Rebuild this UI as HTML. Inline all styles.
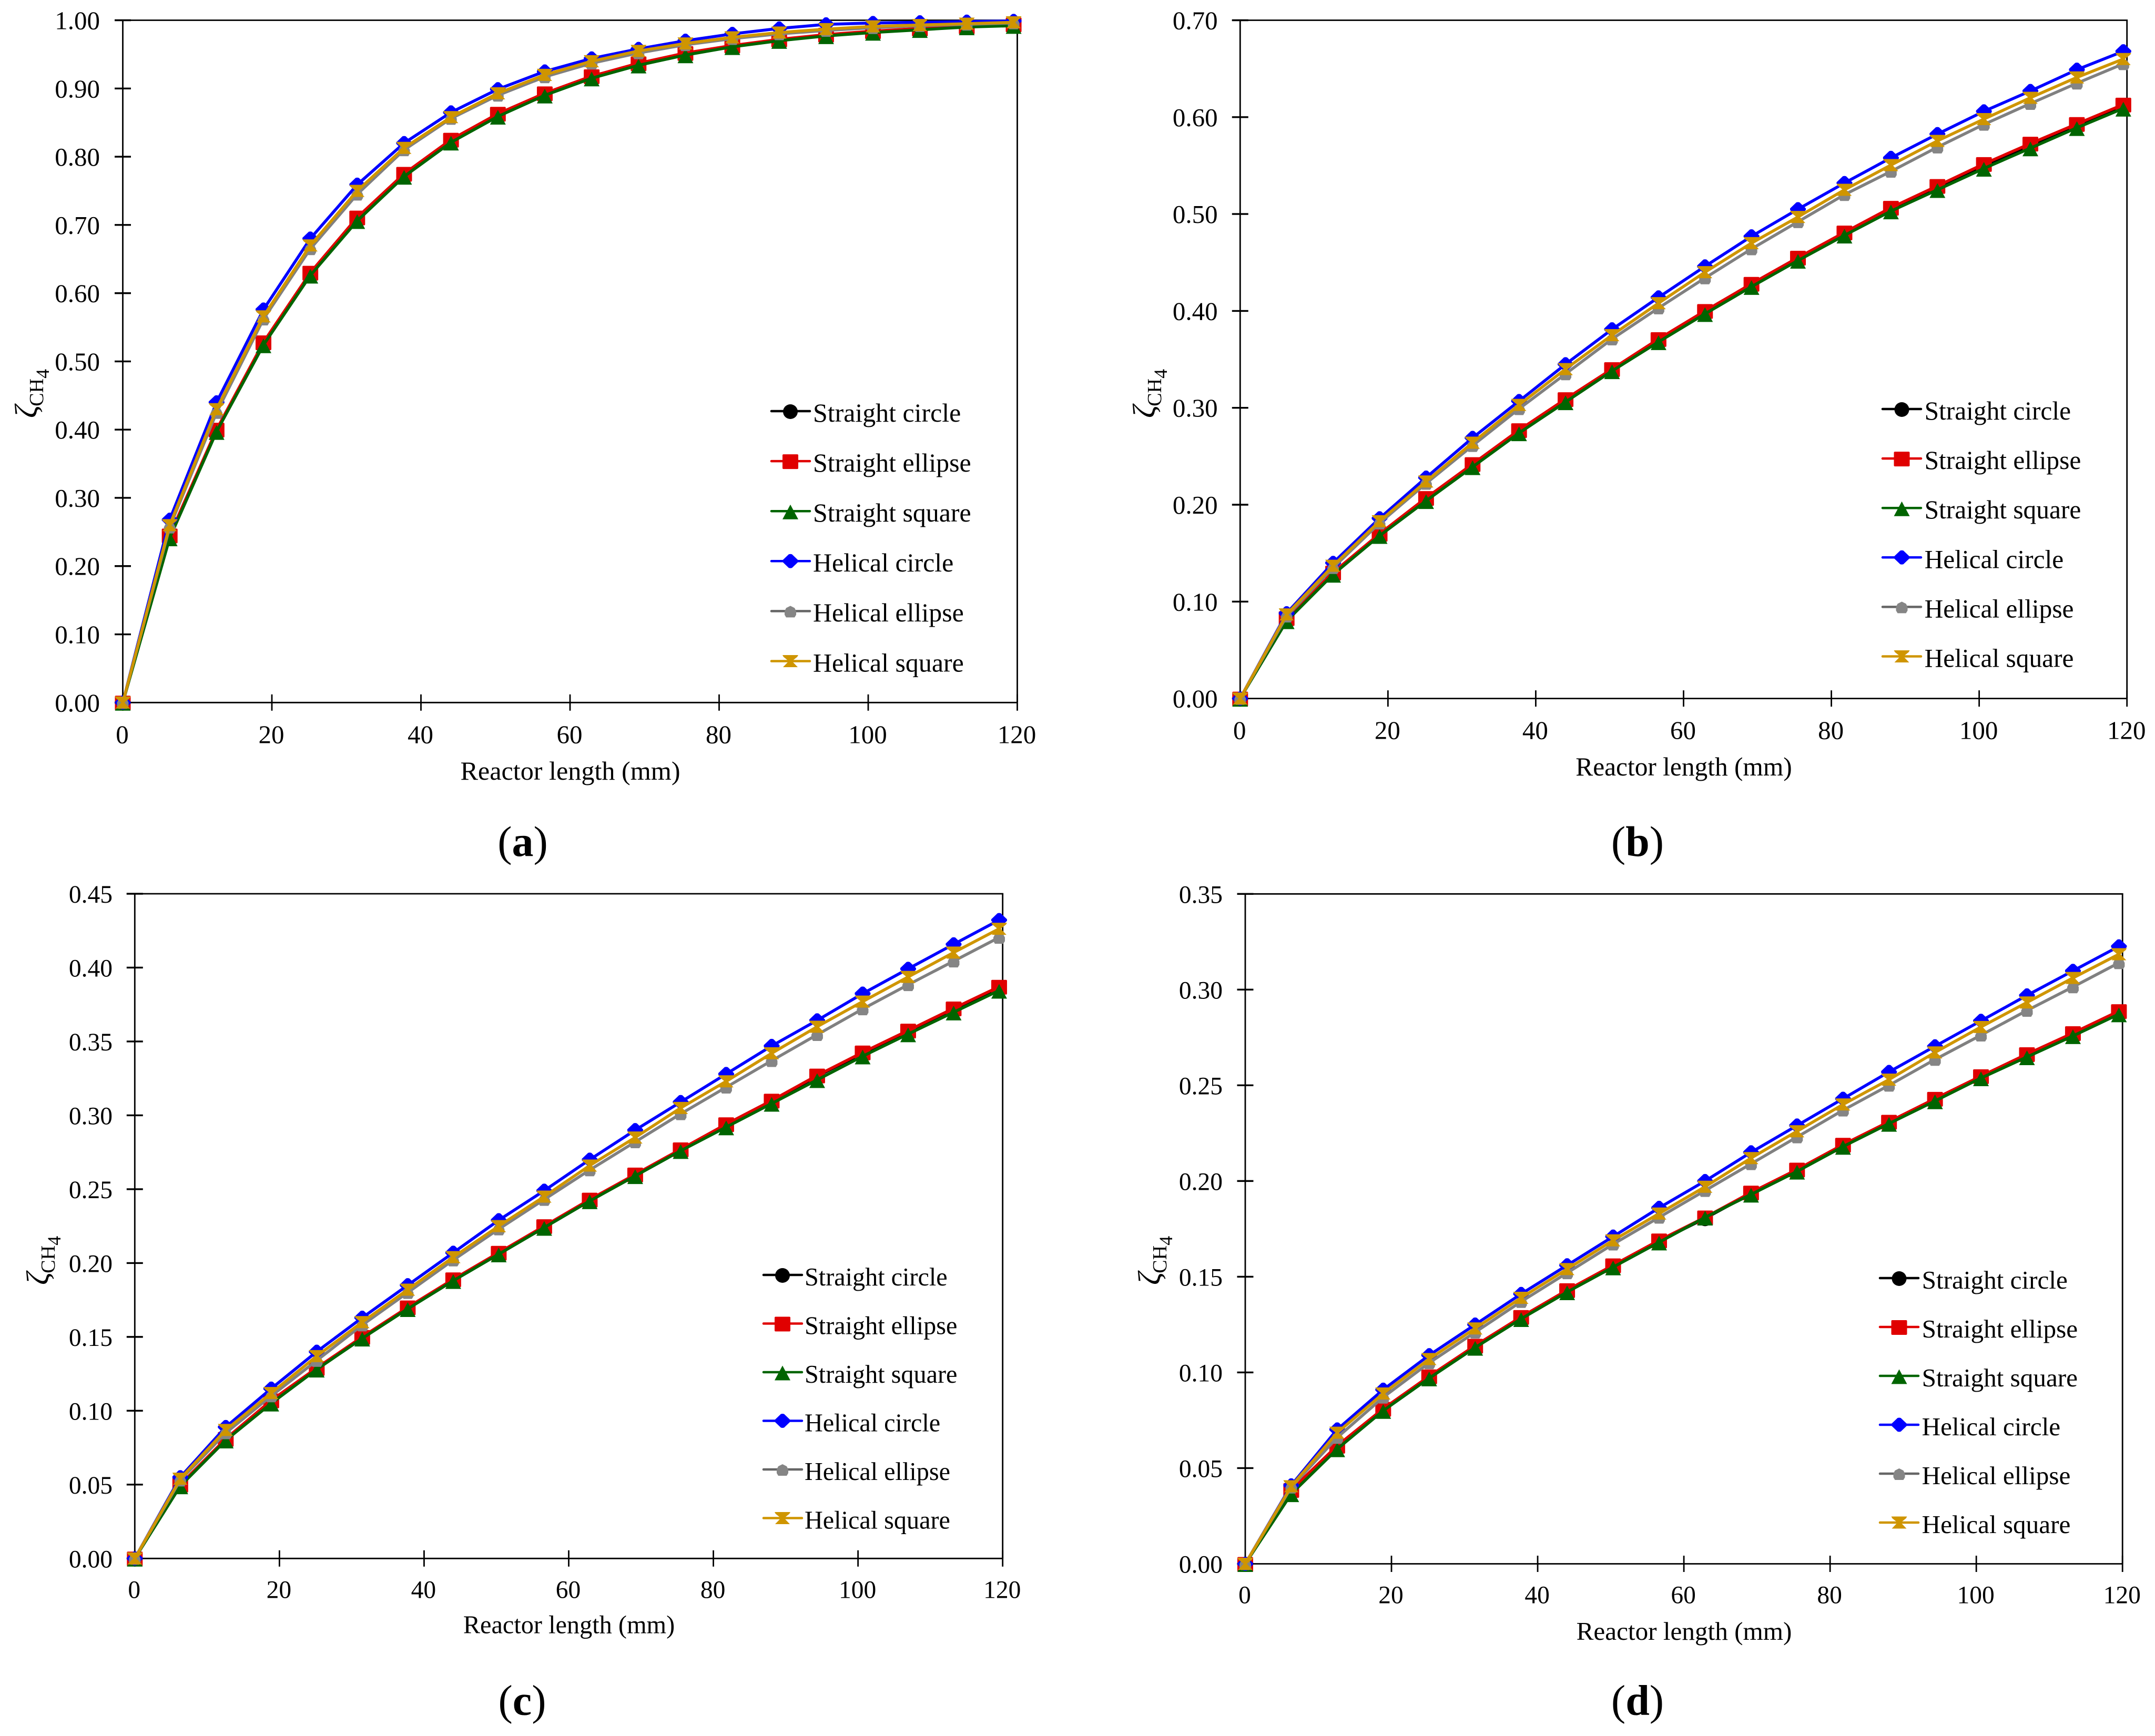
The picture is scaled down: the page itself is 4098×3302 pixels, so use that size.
<!DOCTYPE html>
<html lang="en">
<head>
<meta charset="utf-8">
<title>Methane conversion along reactor length</title>
<style>
html,body{margin:0;padding:0;background:#fff;}
svg{display:block;font-family:"Liberation Serif",serif;fill:#000;}
</style>
</head>
<body>
<svg id="figure" xmlns="http://www.w3.org/2000/svg" width="4098" height="3302" viewBox="0 0 4098 3302">
<rect x="0" y="0" width="4098" height="3302" fill="#fff"/>

<g id="panel-a">
  <text x="1084.5" y="1483" font-size="50.2" text-anchor="middle">Reactor length (mm)</text>
  <text x="994" y="1628" font-size="82" text-anchor="middle">(<tspan font-weight="bold">a</tspan>)</text>
  <text transform="translate(70,795) rotate(-90)" font-size="38"><tspan font-size="60" font-style="italic">ζ</tspan><tspan dy="12" dx="-2">CH</tspan><tspan dy="11" font-size="36">4</tspan></text>
  <text x="1546" y="802" font-size="49.9">Straight circle</text>
  <text x="1546" y="897" font-size="49.9">Straight ellipse</text>
  <text x="1546" y="992" font-size="49.9">Straight square</text>
  <text x="1546" y="1087" font-size="49.9">Helical circle</text>
  <text x="1546" y="1182" font-size="49.9">Helical ellipse</text>
  <text x="1546" y="1277.5" font-size="49.9">Helical square</text>
</g>

<g id="panel-b">
  <text x="3202" y="1475" font-size="49.4" text-anchor="middle">Reactor length (mm)</text>
  <text x="3114" y="1628" font-size="82" text-anchor="middle">(<tspan font-weight="bold">b</tspan>)</text>
  <text transform="translate(2196,795) rotate(-90)" font-size="38"><tspan font-size="60" font-style="italic">ζ</tspan><tspan dy="12" dx="-2">CH</tspan><tspan dy="11" font-size="36">4</tspan></text>
  <text x="3659.6" y="798" font-size="49.4">Straight circle</text>
  <text x="3659.6" y="892" font-size="49.4">Straight ellipse</text>
  <text x="3659.6" y="986" font-size="49.4">Straight square</text>
  <text x="3659.6" y="1080.5" font-size="49.4">Helical circle</text>
  <text x="3659.6" y="1174.5" font-size="49.4">Helical ellipse</text>
  <text x="3659.6" y="1268.5" font-size="49.4">Helical square</text>
</g>

<g id="panel-c">
  <text x="1082" y="3106.7" font-size="48.3" text-anchor="middle">Reactor length (mm)</text>
  <text x="993" y="3261.7" font-size="82" text-anchor="middle">(<tspan font-weight="bold">c</tspan>)</text>
  <text transform="translate(92,2444) rotate(-90)" font-size="38"><tspan font-size="60" font-style="italic">ζ</tspan><tspan dy="12" dx="-2">CH</tspan><tspan dy="11" font-size="36">4</tspan></text>
  <text x="1530" y="2445" font-size="48.2">Straight circle</text>
  <text x="1530" y="2537.5" font-size="48.2">Straight ellipse</text>
  <text x="1530" y="2630" font-size="48.2">Straight square</text>
  <text x="1530" y="2722.5" font-size="48.2">Helical circle</text>
  <text x="1530" y="2815" font-size="48.2">Helical ellipse</text>
  <text x="1530" y="2907.5" font-size="48.2">Helical square</text>
</g>

<g id="panel-d">
  <text x="3202.5" y="3119" font-size="49.2" text-anchor="middle">Reactor length (mm)</text>
  <text x="3114" y="3261.7" font-size="82" text-anchor="middle">(<tspan font-weight="bold">d</tspan>)</text>
  <text transform="translate(2206,2444) rotate(-90)" font-size="38"><tspan font-size="60" font-style="italic">ζ</tspan><tspan dy="12" dx="-2">CH</tspan><tspan dy="11" font-size="36">4</tspan></text>
  <text x="3654.6" y="2451" font-size="49.2">Straight circle</text>
  <text x="3654.6" y="2544" font-size="49.2">Straight ellipse</text>
  <text x="3654.6" y="2637" font-size="49.2">Straight square</text>
  <text x="3654.6" y="2730" font-size="49.2">Helical circle</text>
  <text x="3654.6" y="2823" font-size="49.2">Helical ellipse</text>
  <text x="3654.6" y="2916" font-size="49.2">Helical square</text>
</g>
</svg>

<script>
const reactorLength = [0,6.29,12.58,18.87,25.16,31.45,37.74,44.03,50.32,56.61,62.9,69.19,75.48,81.77,88.06,94.35,100.64,106.93,113.22,119.51];
const xTickLabels = ["0","20","40","60","80","100","120"];

const yTicksA = ["0.00","0.10","0.20","0.30","0.40","0.50","0.60","0.70","0.80","0.90","1.00"];
const yTicksB = ["0.00","0.10","0.20","0.30","0.40","0.50","0.60","0.70"];
const yTicksC = ["0.00","0.05","0.10","0.15","0.20","0.25","0.30","0.35","0.40","0.45"];
const yTicksD = ["0.00","0.05","0.10","0.15","0.20","0.25","0.30","0.35"];

const aStraightCircle = [0,.243,.399,.526,.628,.708,.773,.823,.861,.892,.917,.936,.951,.962,.971,.978,.983,.987,.990,.993];
const aStraightEllipse = [0,.245,.400,.528,.630,.711,.775,.825,.863,.893,.918,.937,.952,.963,.972,.979,.984,.988,.991,.994];
const aStraightSquare = [0,.241,.397,.524,.626,.706,.771,.821,.859,.890,.915,.934,.949,.961,.970,.977,.982,.986,.990,.992];
const aHelicalCircle = [0,.268,.440,.576,.680,.759,.820,.865,.899,.925,.944,.958,.970,.980,.988,.994,.996,.997,.998,.999];
const aHelicalEllipse = [0,.257,.425,.562,.665,.745,.810,.856,.890,.917,.937,.952,.964,.973,.980,.985,.989,.992,.994,.996];
const aHelicalSquare = [0,.260,.430,.566,.670,.750,.813,.858,.893,.920,.940,.955,.966,.975,.982,.987,.991,.993,.995,.997];

const bStraightCircle = [0,.082,.129,.169,.206,.241,.276,.308,.339,.370,.399,.427,.454,.480,.505,.528,.550,.571,.592,.612];
const bStraightEllipse = [0,.083,.130,.170,.207,.242,.277,.309,.340,.371,.400,.428,.455,.481,.5065,.529,.5517,.5727,.593,.613];
const bStraightSquare = [0,.080,.128,.168,.204,.239,.274,.306,.338,.368,.397,.425,.452,.478,.503,.525,.547,.568,.589,.609];
const bHelicalCircle = [0,.088,.140,.186,.228,.269,.307,.345,.381,.414,.446,.477,.505,.532,.558,.5825,.606,.627,.649,.668];
const bHelicalEllipse = [0,.085,.135,.181,.222,.261,.299,.335,.371,.403,.434,.464,.492,.520,.544,.569,.5925,.614,.635,.655];
const bHelicalSquare = [0,.0868,.137,.183,.224,.264,.303,.340,.375,.408,.440,.470,.497,.525,.5505,.5755,.598,.620,.641,.660];

const cStraightCircle = [0,.0495,.0805,.1065,.1285,.1495,.1695,.1885,.2065,.2245,.2425,.2595,.2765,.2935,.3095,.3265,.342,.357,.372,.3865];
const cStraightEllipse = [0,.050,.081,.107,.129,.150,.170,.189,.207,.225,.243,.260,.277,.294,.310,.327,.3426,.3574,.3724,.3871];
const cStraightSquare = [0,.049,.080,.105,.128,.149,.169,.188,.206,.224,.242,.259,.276,.292,.308,.324,.340,.355,.3698,.3845];
const cHelicalCircle = [0,.055,.089,.115,.140,.163,.185,.207,.229,.249,.270,.290,.309,.328,.347,.3643,.3824,.3992,.4158,.4322];
const cHelicalEllipse = [0,.053,.085,.110,.134,.158,.180,.202,.223,.243,.263,.282,.301,.319,.337,.3546,.372,.3884,.4044,.4204];
const cHelicalSquare = [0,.054,.087,.112,.137,.160,.182,.204,.225,.245,.266,.285,.305,.323,.342,.360,.377,.3937,.4102,.4263];

const dStraightCircle = [0,.038,.061,.0805,.0975,.1135,.1285,.1425,.1555,.1685,.1805,.1935,.2055,.2185,.2305,.2425,.2543,.2658,.2768,.2883];
const dStraightEllipse = [0,.0386,.0617,.081,.098,.114,.129,.143,.156,.169,.181,.194,.206,.219,.231,.243,.2548,.2663,.2773,.2888];
const dStraightSquare = [0,.0365,.060,.080,.097,.113,.128,.142,.155,.168,.181,.193,.205,.218,.230,.2418,.2538,.2648,.2758,.2872];
const dHelicalCircle = [0,.041,.0702,.091,.109,.125,.141,.156,.171,.186,.200,.215,.229,.243,.257,.2704,.2837,.297,.3098,.3226];
const dHelicalEllipse = [0,.040,.066,.087,.105,.121,.137,.152,.167,.181,.195,.209,.223,.237,.250,.2635,.2762,.2891,.3014,.314];
const dHelicalSquare = [0,.0405,.0685,.089,.107,.123,.139,.154,.169,.183,.197,.212,.226,.240,.253,.2672,.2805,.2933,.3061,.3185];

const seriesNames = ["straight-circle","straight-ellipse","straight-square","helical-circle","helical-ellipse","helical-square"];
const lineColors = ["#000000","#e00000","#006400","#0000ff","#808080","#cf9500"];
const markerColors = ["#000000","#e00000","#006400","#0000ff","#858585","#cf9500"];
const legendLineColors = ["#000000","#e00000","#006400","#0000ff","#666666","#cf9500"];
const markerKinds = ["circle","square","triangle","diamond","pentagon","hourglass"];

const panels = [
  {id:"panel-a", left:233.5, right:1934.5, bottom:1336.3, top:38.5, yMax:1.0, ticks:yTicksA, labelRight:190, font:49, xLabelDrop:77,
   legendX1:1467, legendX2:1540, legendMark:1503, legendY:782, legendStep:95.1,
   series:[aStraightCircle,aStraightEllipse,aStraightSquare,aHelicalCircle,aHelicalEllipse,aHelicalSquare]},
  {id:"panel-b", left:2358.3, right:4044.7, bottom:1328.6, top:38.5, yMax:0.7, ticks:yTicksB, labelRight:2315.6, font:49, xLabelDrop:77,
   legendX1:3580, legendX2:3653, legendMark:3616.5, legendY:778, legendStep:94.1,
   series:[bStraightCircle,bStraightEllipse,bStraightSquare,bHelicalCircle,bHelicalEllipse,bHelicalSquare]},
  {id:"panel-c", left:256.3, right:1906.7, bottom:2964.3, top:1700, yMax:0.45, ticks:yTicksC, labelRight:214, font:47.5, xLabelDrop:75,
   legendX1:1452, legendX2:1525, legendMark:1488, legendY:2425, legendStep:92.5,
   series:[cStraightCircle,cStraightEllipse,cStraightSquare,cHelicalCircle,cHelicalEllipse,cHelicalSquare]},
  {id:"panel-d", left:2368, right:4036.2, bottom:2974.5, top:1700.3, yMax:0.35, ticks:yTicksD, labelRight:2325, font:47.5, xLabelDrop:75,
   legendX1:3575, legendX2:3648, legendMark:3611.5, legendY:2431, legendStep:93,
   series:[dStraightCircle,dStraightEllipse,dStraightSquare,dHelicalCircle,dHelicalEllipse,dHelicalSquare]}
];

const SVG_NS = "http://www.w3.org/2000/svg";
const TICK_HALF = 15.5;
const AXIS_WIDTH = 2.8;
const TICK_WIDTH = 3.4;
const X_MAX = 120;

function xScale(panel, value) {
  return panel.left + (value / X_MAX) * (panel.right - panel.left);
}
function yScale(panel, value) {
  return panel.bottom - (value / panel.yMax) * (panel.bottom - panel.top);
}
function make(tag, parent) {
  const el = document.createElementNS(SVG_NS, tag);
  parent.appendChild(el);
  return el;
}
function drawLine(parent, name, x1, y1, x2, y2, color, width) {
  const el = make("line", parent);
  
  
  el.setAttribute("x1", x1);
  el.setAttribute("y1", y1);
  el.setAttribute("x2", x2);
  el.setAttribute("y2", y2);
  el.setAttribute("stroke", color);
  el.setAttribute("stroke-width", width);
  return el;
}
function drawLabel(parent, name, x, y, text, size, anchor) {
  const el = make("text", parent);
  
  
  el.setAttribute("x", x);
  el.setAttribute("y", y);
  el.setAttribute("font-size", size);
  el.setAttribute("text-anchor", anchor);
  el.textContent = text;
  return el;
}
function polygonPoints(cx, cy, offsets) {
  return offsets.map(function (p) { return (cx + p[0]).toFixed(2) + "," + (cy + p[1]).toFixed(2); }).join(" ");
}
function drawMarker(parent, name, kind, cx, cy, color) {
  let el;
  if (kind === "circle") {
    el = make("circle", parent);
    el.setAttribute("cx", cx);
    el.setAttribute("cy", cy + 1);
    el.setAttribute("r", 14);
  } else if (kind === "square") {
    el = make("rect", parent);
    el.setAttribute("x", cx - 15);
    el.setAttribute("y", cy - 13);
    el.setAttribute("width", 30);
    el.setAttribute("height", 28);
    el.setAttribute("rx", 2);
  } else {
    el = make("polygon", parent);
    let shape;
    if (kind === "triangle") {
      shape = [[0,-12.5],[15,15.5],[-15,15.5]];
    } else if (kind === "diamond") {
      shape = [[0,-13.5],[3,-13],[15,-1.5],[15,1.5],[3,13],[0,13.5],[-3,13],[-15,1.5],[-15,-1.5],[-3,-13]];
    } else if (kind === "pentagon") {
      shape = [[0,-10],[8,-6],[11,0],[11,7],[8,12],[-8,12],[-11,7],[-11,0],[-8,-6]];
    } else {
      shape = [[-15,-11.5],[15,-11.5],[13,-8],[3,0],[14,11.5],[-14,11.5],[-3,0],[-13,-8]];
    }
    el.setAttribute("points", polygonPoints(cx, cy, shape));
  }
  
  
  el.setAttribute("fill", color);
  return el;
}
function drawFrame(panel, group) {
  drawLine(group, "plot-top-border", panel.left - TICK_HALF, panel.top, panel.right + AXIS_WIDTH / 2, panel.top, "#000", AXIS_WIDTH);
  drawLine(group, "plot-right-border", panel.right, panel.top, panel.right, panel.bottom, "#000", AXIS_WIDTH);
  drawLine(group, "y-axis-line", panel.left, panel.top, panel.left, panel.bottom, "#000", AXIS_WIDTH);
  drawLine(group, "x-axis-line", panel.left, panel.bottom, panel.right, panel.bottom, "#000", AXIS_WIDTH);
}
function drawYAxis(panel, group) {
  panel.ticks.forEach(function (label) {
    const y = yScale(panel, parseFloat(label));
    drawLine(group, "y-tick", panel.left - TICK_HALF, y, panel.left + TICK_HALF, y, "#000", TICK_WIDTH);
    drawLabel(group, "y-tick-label", panel.labelRight, y + 17, label, panel.font, "end");
  });
}
function drawXAxis(panel, group) {
  xTickLabels.forEach(function (label) {
    const x = xScale(panel, parseFloat(label));
    drawLine(group, "x-tick", x, panel.bottom - TICK_HALF, x, panel.bottom + TICK_HALF, "#000", AXIS_WIDTH);
    drawLabel(group, "x-tick-label", x - 1, panel.bottom + panel.xLabelDrop, label, panel.font, "middle");
  });
}
function drawSeries(panel, group) {
  panel.series.forEach(function (values, s) {
    const g = make("g", group);
    
    
    const path = make("polyline", g);
    
    
    path.setAttribute("fill", "none");
    path.setAttribute("stroke", lineColors[s]);
    path.setAttribute("stroke-width", 5.6);
    path.setAttribute("stroke-linejoin", "round");
    path.setAttribute("points", values.map(function (v, i) {
      return xScale(panel, reactorLength[i]).toFixed(2) + "," + yScale(panel, v).toFixed(2);
    }).join(" "));
    values.forEach(function (v, i) {
      drawMarker(g, "point-" + seriesNames[s], markerKinds[s], xScale(panel, reactorLength[i]), yScale(panel, v), markerColors[s]);
    });
  });
}
function drawLegend(panel, group) {
  seriesNames.forEach(function (name, s) {
    const y = panel.legendY + s * panel.legendStep;
    const sample = drawLine(group, "legend-line-" + name, panel.legendX1, y, panel.legendX2, y, legendLineColors[s], 4.5);
    sample.setAttribute("stroke-linecap", "round");
    drawMarker(group, "legend-marker-" + name, markerKinds[s], panel.legendMark, y, markerColors[s]);
  });
}
panels.forEach(function (panel) {
  const group = document.getElementById(panel.id);
  drawFrame(panel, group);
  drawYAxis(panel, group);
  drawXAxis(panel, group);
  drawSeries(panel, group);
  drawLegend(panel, group);
});
</script>
</body>
</html>
